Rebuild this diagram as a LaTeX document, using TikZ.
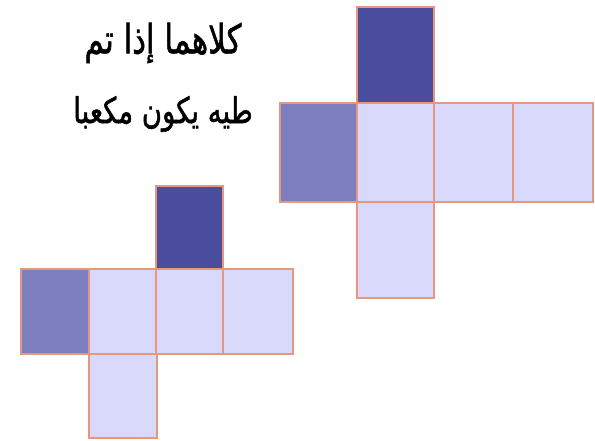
\documentclass[tikz,border=0pt]{standalone}
\usepackage{fontspec}
\newfontfamily\arabicfont[Script=Arabic,FakeBold=1.5]{DejaVu Sans}
\TeXXeTstate=1
\definecolor{darkf}{HTML}{4B4E9F}
\definecolor{midf}{HTML}{7D7EBF}
\definecolor{lightf}{HTML}{D9D9FB}
\definecolor{edgec}{HTML}{E8977C}
\begin{document}
\begin{tikzpicture}[x=1pt,y=-1pt,
  face/.style={draw=edgec,line width=1.1pt},
  dk/.style={face,fill=darkf},
  md/.style={face,fill=midf},
  lt/.style={face,fill=lightf},
  lbl/.style={text=black,inner sep=0pt}]
\useasboundingbox (0,0) rectangle (595,441);
% right net
\path[dk] (357,7) rectangle (434,103);
\path[md] (280,103) rectangle (357,202);
\path[lt] (357,103) rectangle (434,202);
\path[lt] (434,103) rectangle (513,202);
\path[lt] (513,103) rectangle (593,202);
\path[lt] (357,202) rectangle (434,298);
% left net
\path[dk] (156,186) rectangle (223,269);
\path[md] (21,269) rectangle (89,354);
\path[lt] (89,269) rectangle (156,354);
\path[lt] (156,269) rectangle (223,354);
\path[lt] (223,269) rectangle (293,354);
\path[lt] (89,354) rectangle (157,438);
% redraw shared edges on top
\draw[edgec,line width=1.1pt] (357,103) -- (357,298) (434,103) -- (434,298) (513,103) -- (513,202)
  (357,103) -- (434,103) (357,202) -- (434,202);
\draw[edgec,line width=1.1pt] (89,269) -- (89,438) (156,269) -- (156,354) (223,269) -- (223,354)
  (156,269) -- (223,269) (89,354) -- (157,354);
% text
\node[lbl] (t1) at (163,43) {\scalebox{1}[1.3]{\arabicfont\fontsize{31}{36}\selectfont\beginR كلاهما إذا تم\endR}};
\node[lbl] (t2) at (163,114) {\scalebox{1}[1.3]{\arabicfont\fontsize{27.5}{32}\selectfont\beginR طيه يكون مكعبا\endR}};
\end{tikzpicture}
\end{document}
